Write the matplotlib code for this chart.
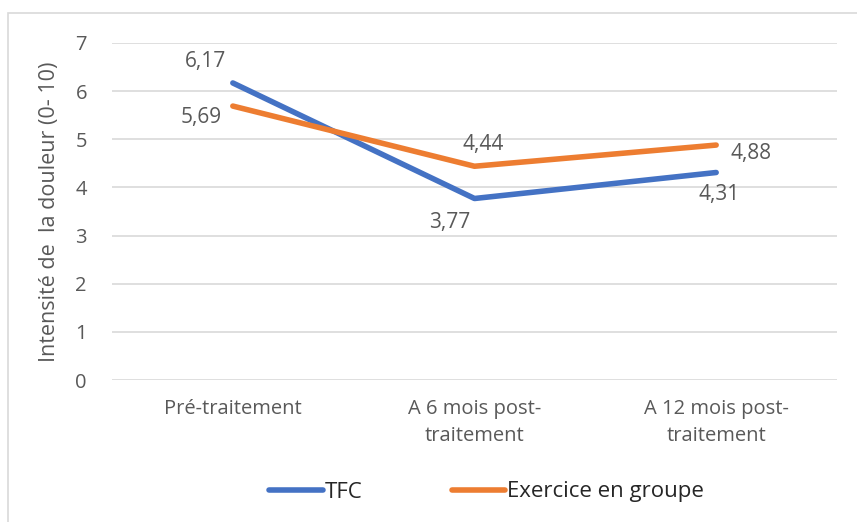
import matplotlib
matplotlib.use("Agg")
import matplotlib.pyplot as plt
from matplotlib.patches import Rectangle
from matplotlib.lines import Line2D

categories = ["Pré-traitement", "A 6 mois post-\ntraitement", "A 12 mois post-\ntraitement"]
tfc = [6.17, 3.77, 4.31]
exercice = [5.69, 4.44, 4.88]
series_names = ["TFC", "Exercice en groupe"]
yticks = [0, 1, 2, 3, 4, 5, 6, 7]

plt.rcParams['font.family'] = ['Open Sans', 'DejaVu Sans']
gray = "#595959"
blue = "#4472C4"
orange = "#ED7D31"

W, H = 857, 522
fig = plt.figure(figsize=(W/100, H/100), dpi=100)
fig.patch.set_facecolor("white")

# outer frame
fig.patches.append(Rectangle((8/W, -0.1), 1.2, 1 - 13/H + 0.1, transform=fig.transFigure,
                             fill=False, edgecolor="#d9d9d9", linewidth=1.2))

ax = fig.add_axes([112/W, 1 - 380/H, 725/W, (380-43)/H])
x = [0, 1, 2]
ax.plot(x, tfc, color=blue, linewidth=4, solid_capstyle="round", zorder=3)
ax.plot(x, exercice, color=orange, linewidth=4, solid_capstyle="round", zorder=3)
ax.set_xlim(-0.5, 2.5)
ax.set_ylim(0, 7)
ax.set_yticks(yticks)
ax.set_yticklabels([str(t) for t in yticks])
ax.set_xticks(x)
ax.set_xticklabels(categories, linespacing=1.45)
ax.grid(axis="y", color="#d9d9d9", linewidth=1.2)
ax.set_axisbelow(True)
for s in ax.spines.values():
    s.set_visible(False)
ax.tick_params(axis="both", length=0, colors=gray, labelsize=14.5)
ax.tick_params(axis="y", pad=18)
ax.tick_params(axis="x", pad=14)
ax.set_ylabel("Intensité de  la douleur (0- 10)", color=gray, fontsize=15.5, labelpad=11)

def fmt(v):
    return f"{v:.2f}".replace(".", ",")

fs = 15
# TFC labels
ax.annotate(fmt(tfc[0]), (0, tfc[0]), xytext=(-5, 8), textcoords="offset points",
            ha="right", va="bottom", color=gray, fontsize=fs)
ax.annotate(fmt(tfc[1]), (1, tfc[1]), xytext=(-18, -10), textcoords="offset points",
            ha="center", va="top", color=gray, fontsize=fs)
ax.annotate(fmt(tfc[2]), (2, tfc[2]), xytext=(2, -8), textcoords="offset points",
            ha="center", va="top", color=gray, fontsize=fs)
# Exercice labels
ax.annotate(fmt(exercice[0]), (0, exercice[0]), xytext=(-8, -8), textcoords="offset points",
            ha="right", va="center", color=gray, fontsize=fs)
ax.annotate(fmt(exercice[1]), (1, exercice[1]), xytext=(6, 8), textcoords="offset points",
            ha="center", va="bottom", color=gray, fontsize=fs)
ax.annotate(fmt(exercice[2]), (2, exercice[2]), xytext=(10, -6), textcoords="offset points",
            ha="left", va="center", color=gray, fontsize=fs)

handles = [Line2D([0], [0], color=blue, linewidth=4, solid_capstyle="round"),
           Line2D([0], [0], color=orange, linewidth=4, solid_capstyle="round")]
leg = fig.legend(handles, series_names, loc="center", bbox_to_anchor=(0.568, 1 - 492/H),
                 ncol=2, frameon=False, fontsize=16, handlelength=2.4, handletextpad=0.1,
                 columnspacing=4.0)
for t in leg.get_texts():
    t.set_color("#262626")

fig.savefig("out.png", dpi=100)
